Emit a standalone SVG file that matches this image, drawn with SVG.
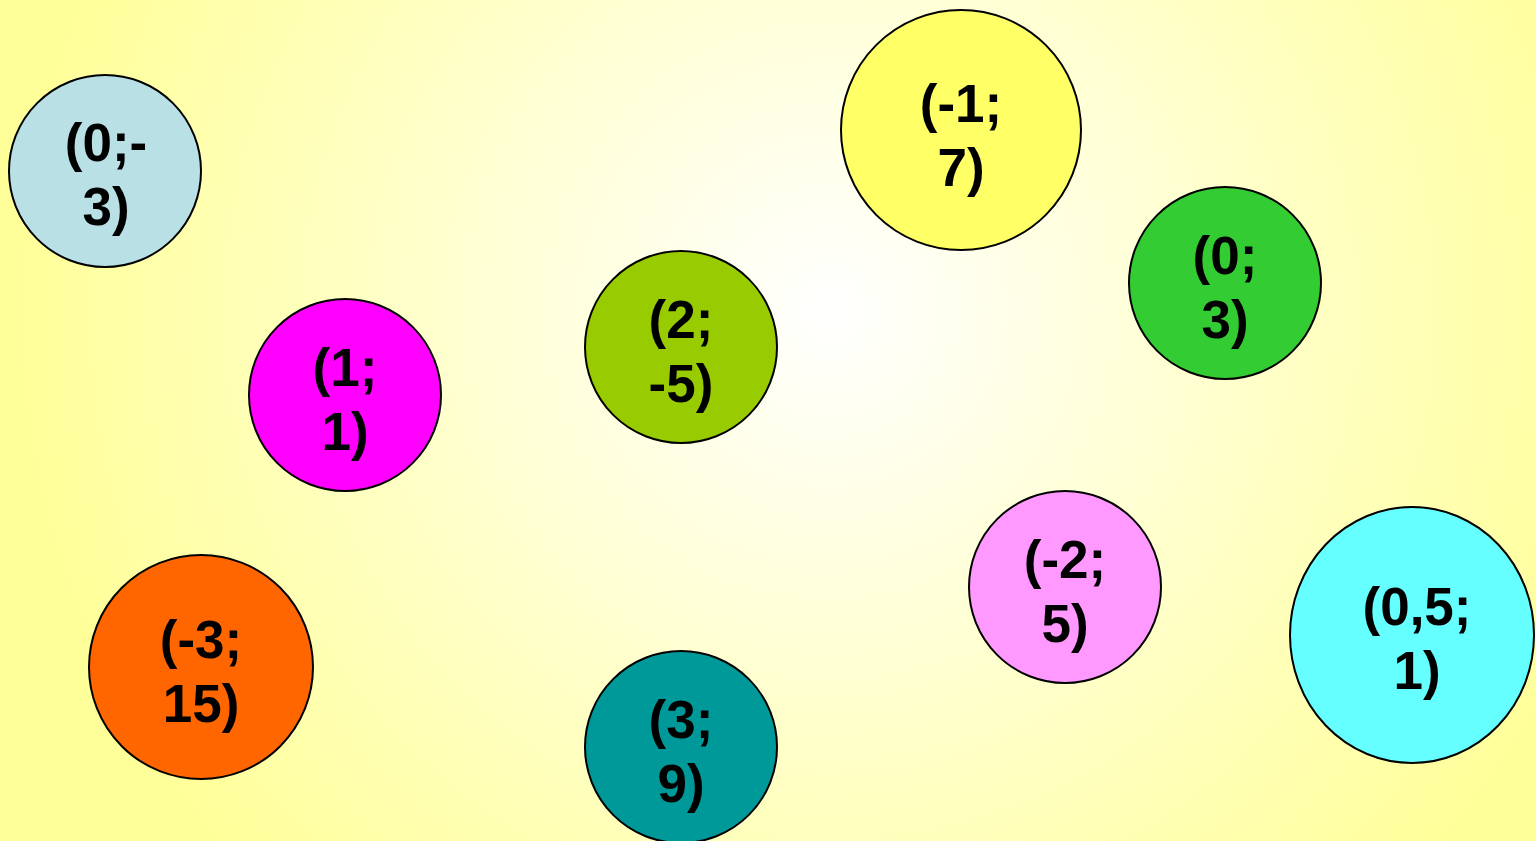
<svg xmlns="http://www.w3.org/2000/svg" width="1536" height="841" viewBox="0 0 1536 841">
<defs>
<radialGradient id="bg" gradientUnits="userSpaceOnUse" cx="830" cy="310" r="820">
<stop offset="0" stop-color="#FFFFFF"/>
<stop offset="1" stop-color="#FFFF99"/>
</radialGradient>
</defs>
<style>
.n{stroke:#000;stroke-width:2}
.t{font-family:"Liberation Sans",Arial,sans-serif;font-weight:bold;font-size:53px;fill:#000;text-anchor:middle}
</style>
<rect x="0" y="0" width="1536" height="841" fill="url(#bg)"/>
<g id="connectors"/>
<g id="n1"><ellipse class="n" cx="105" cy="171" rx="96" ry="96" fill="#B9E0E4"/><text class="t" x="106" y="161">(0;-</text><text class="t" x="106" y="225">3)</text></g>
<g id="n2"><circle class="n" cx="345" cy="395" r="96" fill="#FF00FF"/><text class="t" x="345" y="386">(1;</text><text class="t" x="345" y="450">1)</text></g>
<g id="n3"><circle class="n" cx="681" cy="347" r="96" fill="#99CC00"/><text class="t" x="681" y="338">(2;</text><text class="t" x="681" y="402">-5)</text></g>
<g id="n4"><ellipse class="n" cx="961" cy="130" rx="120" ry="120" fill="#FFFF66"/><text class="t" x="961" y="122">(-1;</text><text class="t" x="961" y="186">7)</text></g>
<g id="n5"><circle class="n" cx="1225" cy="283" r="96" fill="#33CC33"/><text class="t" x="1225" y="274">(0;</text><text class="t" x="1225" y="338">3)</text></g>
<g id="n6"><ellipse class="n" cx="201" cy="667" rx="112" ry="112" fill="#FF6600"/><text class="t" x="201" y="658">(-3;</text><text class="t" x="201" y="722">15)</text></g>
<g id="n7"><circle class="n" cx="681" cy="747" r="96" fill="#009999"/><text class="t" x="681" y="738">(3;</text><text class="t" x="681" y="802">9)</text></g>
<g id="n8"><circle class="n" cx="1065" cy="587" r="96" fill="#FF99FF"/><text class="t" x="1065" y="578">(-2;</text><text class="t" x="1065" y="642">5)</text></g>
<g id="n9"><ellipse class="n" cx="1412" cy="635" rx="122" ry="128" fill="#66FFFF"/><text class="t" x="1417" y="625">(0,5;</text><text class="t" x="1417" y="689">1)</text></g>
</svg>
